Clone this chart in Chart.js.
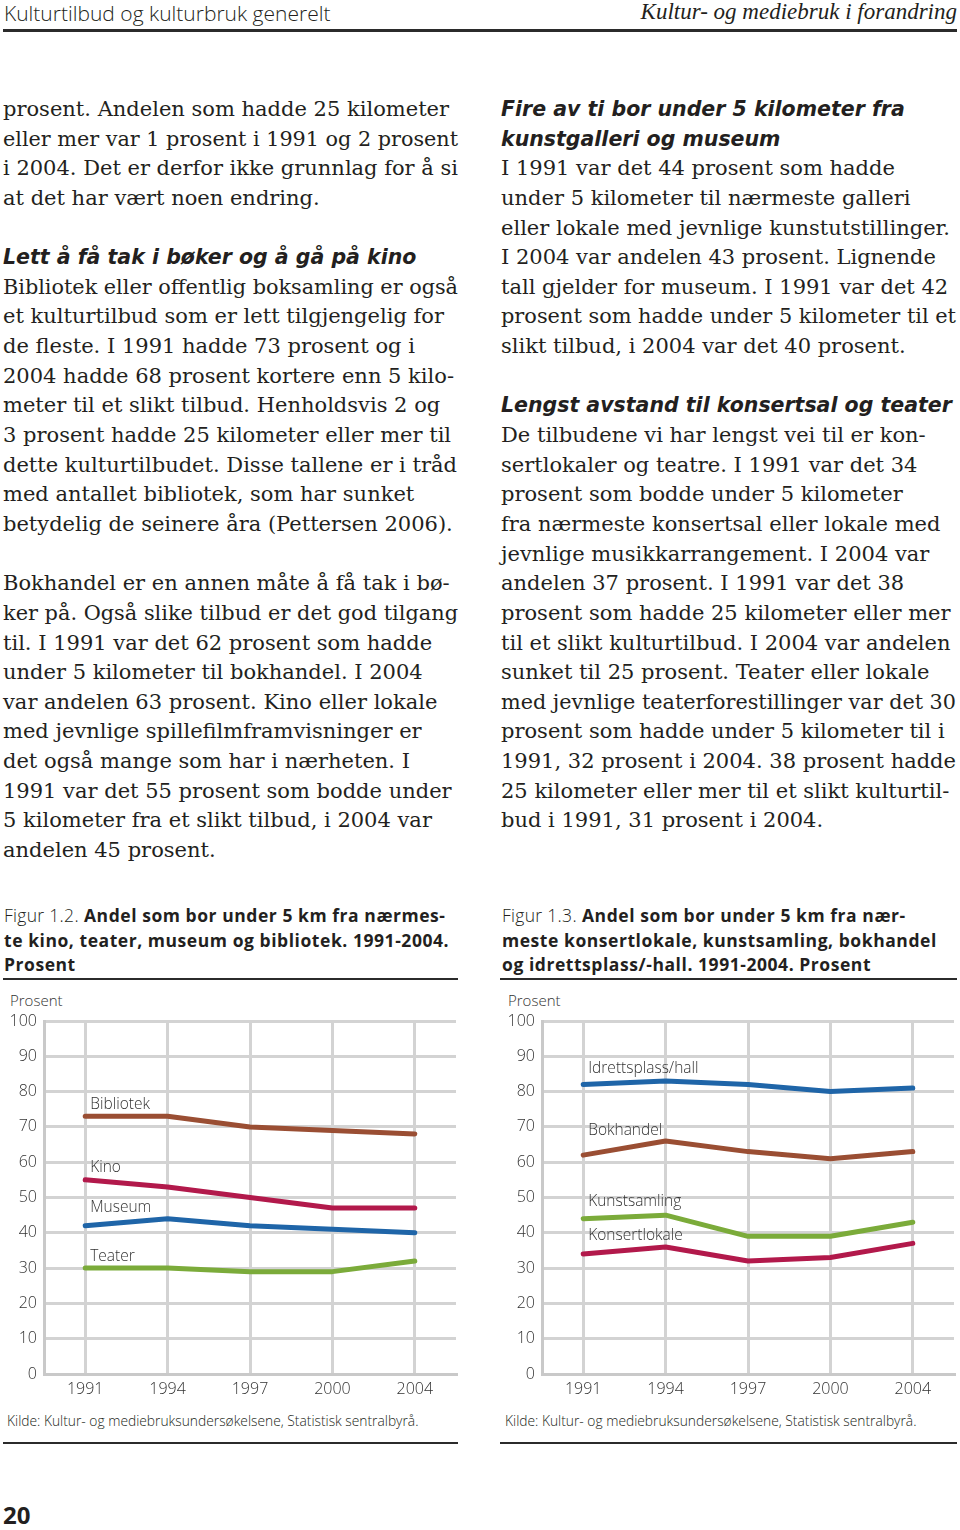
<!DOCTYPE html>
<html>
<head>
<meta charset="utf-8">
<script src="https://cdn.jsdelivr.net/npm/chart.js@4.4.1/dist/chart.umd.min.js"></script>
<style>
  html, body { margin: 0; padding: 0; background: #fff; }
  body { width: 960px; height: 1530px; position: relative; overflow: hidden; color: #231f20; }
  .abs { position: absolute; }
  .rule { position: absolute; background: #2b2b2b; }
  .col { position: absolute; top: 95px; width: 460px; font-family: "DejaVu Serif", serif; font-size: 21px; line-height: 29.65px; }
  .col div { white-space: nowrap; height: 29.65px; transform-origin: left center; }
  .col .h { font-family: "DejaVu Sans", sans-serif; font-weight: 700; font-style: italic; font-size: 20.5px; }
  .cap { position: absolute; top: 903px; font-family: "Open Sans", sans-serif; font-size: 17.5px; line-height: 24.6px; font-weight: 700; letter-spacing: 0.55px; }
  .cap .fig { font-weight: 300; letter-spacing: 0.3px; }
  .cap div { white-space: nowrap; transform-origin: left center; }
  .src { position: absolute; top: 1411px; font-family: "Open Sans", sans-serif; font-size: 13.8px; font-weight: 300; white-space: nowrap; }
  .unit { position: absolute; top: 990px; font-family: "Open Sans", sans-serif; font-size: 15px; font-weight: 300; color: #333; }
  canvas { position: absolute; }
</style>
</head>
<body>

<div class="abs" style="left:4px; top:-1px; font-family:'Open Sans',sans-serif; font-weight:300; font-size:21px;">Kulturtilbud og kulturbruk generelt</div>
<div class="abs" style="right:3px; top:-1px; font-family:'Liberation Serif',serif; font-style:italic; font-size:23px;">Kultur- og mediebruk i forandring</div>
<div class="rule" style="left:3px; top:29px; width:954px; height:3px;"></div>

<div class="col" id="leftCol" style="left:3px;"></div>
<div class="col" id="rightCol" style="left:501px;"></div>

<div class="cap" style="left:4px;">
  <div><span class="fig">Figur 1.2.</span> Andel som bor under 5 km fra nærmes-</div>
  <div>te kino, teater, museum og bibliotek. 1991-2004.</div>
  <div>Prosent</div>
</div>
<div class="cap" style="left:502px;">
  <div><span class="fig">Figur 1.3.</span> Andel som bor under 5 km fra nær-</div>
  <div>meste konsertlokale, kunstsamling, bokhandel</div>
  <div>og idrettsplass/-hall. 1991-2004. Prosent</div>
</div>
<div class="rule" style="left:3px; top:978px; width:455px; height:2px;"></div>
<div class="rule" style="left:500px; top:978px; width:457px; height:2px;"></div>

<div class="unit" style="left:10px;">Prosent</div>
<div class="unit" style="left:508px;">Prosent</div>
<canvas id="chartLeft" width="460" height="405" style="left:0px; top:995px;"></canvas>
<canvas id="chartRight" width="460" height="405" style="left:498px; top:995px;"></canvas>

<div class="src" style="left:7px;">Kilde: Kultur- og mediebruksundersøkelsene, Statistisk sentralbyrå.</div>
<div class="src" style="left:505px;">Kilde: Kultur- og mediebruksundersøkelsene, Statistisk sentralbyrå.</div>
<div class="rule" style="left:3px; top:1442px; width:455px; height:2px;"></div>
<div class="rule" style="left:500px; top:1442px; width:457px; height:2px;"></div>

<div class="abs" style="left:3px; top:1498px; font-family:'Open Sans',sans-serif; font-weight:700; font-size:24px;">20</div>

<script>
// Chart data
const years = ['1991', '1994', '1997', '2000', '2004'];
const yTicks = [0, 10, 20, 30, 40, 50, 60, 70, 80, 90, 100];

// Figur 1.2
const bibliotek = [73, 73, 70, 69, 68];
const kino = [55, 53, 50, 47, 47];
const museum = [42, 44, 42, 41, 40];
const teater = [30, 30, 29, 29, 32];

// Figur 1.3
const idrettsplass = [82, 83, 82, 80, 81];
const bokhandel = [62, 66, 63, 61, 63];
const kunstsamling = [44, 45, 39, 39, 43];
const konsertlokale = [34, 36, 32, 33, 37];

const BROWN = '#9a4e33';
const RED = '#b2194b';
const BLUE = '#1f65a8';
const GREEN = '#7bab3a';

// body text, one entry per printed line ('' = empty line, '#' prefix = heading)
const leftLines = [
    'prosent. Andelen som hadde 25 kilometer',
    'eller mer var 1 prosent i 1991 og 2 prosent',
    'i 2004. Det er derfor ikke grunnlag for å si',
    'at det har vært noen endring.',
    '',
    '#Lett å få tak i bøker og å gå på kino',
    'Bibliotek eller offentlig boksamling er også',
    'et kulturtilbud som er lett tilgjengelig for',
    'de fleste. I 1991 hadde 73 prosent og i',
    '2004 hadde 68 prosent kortere enn 5 kilo-',
    'meter til et slikt tilbud. Henholdsvis 2 og',
    '3 prosent hadde 25 kilometer eller mer til',
    'dette kulturtilbudet. Disse tallene er i tråd',
    'med antallet bibliotek, som har sunket',
    'betydelig de seinere åra (Pettersen 2006).',
    '',
    'Bokhandel er en annen måte å få tak i bø-',
    'ker på. Også slike tilbud er det god tilgang',
    'til. I 1991 var det 62 prosent som hadde',
    'under 5 kilometer til bokhandel. I 2004',
    'var andelen 63 prosent. Kino eller lokale',
    'med jevnlige spillefilmframvisninger er',
    'det også mange som har i nærheten. I',
    '1991 var det 55 prosent som bodde under',
    '5 kilometer fra et slikt tilbud, i 2004 var',
    'andelen 45 prosent.'
];
const rightLines = [
    '#Fire av ti bor under 5 kilometer fra',
    '#kunstgalleri og museum',
    'I 1991 var det 44 prosent som hadde',
    'under 5 kilometer til nærmeste galleri',
    'eller lokale med jevnlige kunstutstillinger.',
    'I 2004 var andelen 43 prosent. Lignende',
    'tall gjelder for museum. I 1991 var det 42',
    'prosent som hadde under 5 kilometer til et',
    'slikt tilbud, i 2004 var det 40 prosent.',
    '',
    '#Lengst avstand til konsertsal og teater',
    'De tilbudene vi har lengst vei til er kon-',
    'sertlokaler og teatre. I 1991 var det 34',
    'prosent som bodde under 5 kilometer',
    'fra nærmeste konsertsal eller lokale med',
    'jevnlige musikkarrangement. I 2004 var',
    'andelen 37 prosent. I 1991 var det 38',
    'prosent som hadde 25 kilometer eller mer',
    'til et slikt kulturtilbud. I 2004 var andelen',
    'sunket til 25 prosent. Teater eller lokale',
    'med jevnlige teaterforestillinger var det 30',
    'prosent som hadde under 5 kilometer til i',
    '1991, 32 prosent i 2004. 38 prosent hadde',
    '25 kilometer eller mer til et slikt kulturtil-',
    'bud i 1991, 31 prosent i 2004.'
];

// squeeze a nowrap line if it runs past maxW
function fitLine(div, maxW) {
    const span = document.createElement('span');
    while (div.firstChild) span.appendChild(div.firstChild);
    div.appendChild(span);
    const w = span.getBoundingClientRect().width;
    if (w > maxW) {
        div.style.transform = 'scaleX(' + (maxW / w) + ')';
    }
}

function fillColumn(id, lines) {
    const col = document.getElementById(id);
    lines.forEach(line => {
        const div = document.createElement('div');
        if (line.startsWith('#')) {
            div.className = 'h';
            div.textContent = line.slice(1);
        } else {
            div.textContent = line;
        }
        col.appendChild(div);
        fitLine(div, 455);
    });
}

fillColumn('leftCol', leftLines);
fillColumn('rightCol', rightLines);
document.querySelectorAll('.cap div').forEach(d => fitLine(d, 452));

// draws the series name just above the first point of each line
const lineLabels = {
    id: 'lineLabels',
    afterDatasetsDraw(chart) {
        const ctx = chart.ctx;
        const xs = chart.scales.x;
        const ys = chart.scales.y;
        ctx.save();
        ctx.font = '300 15.5px "Open Sans", sans-serif';
        ctx.fillStyle = '#333';
        ctx.textAlign = 'left';
        ctx.textBaseline = 'middle';
        chart.data.datasets.forEach(ds => {
            const px = xs.getPixelForValue(0) + 5;
            const py = ys.getPixelForValue(ds.data[0]) - ds.labelLift;
            ctx.fillText(ds.label, px, py);
        });
        ctx.restore();
    }
};

function makeDataset(label, data, color, lift) {
    return {
        label: label,
        data: data,
        borderColor: color,
        borderWidth: 5,
        borderCapStyle: 'round',
        borderJoinStyle: 'round',
        pointRadius: 0,
        tension: 0,
        fill: false,
        labelLift: lift
    };
}

function renderChart(canvasId, datasets) {
    const ctx = document.getElementById(canvasId).getContext('2d');
    new Chart(ctx, {
        type: 'line',
        data: {
            labels: years,
            datasets: datasets
        },
        options: {
            responsive: false,
            animation: false,
            layout: {
                padding: { top: 26, right: 4, left: 0, bottom: 0 }
            },
            scales: {
                x: {
                    offset: true,
                    grid: {
                        offset: false,
                        color: '#d3d3d3',
                        lineWidth: 3,
                        drawTicks: false
                    },
                    border: { color: '#c9c9c9', width: 3 },
                    ticks: {
                        padding: 6,
                        color: '#333',
                        font: { family: 'Open Sans', size: 16, weight: 300 }
                    },
                    afterFit: scale => { scale.height = 26; }
                },
                y: {
                    min: 0,
                    max: 100,
                    afterBuildTicks: scale => {
                        scale.ticks = yTicks.map(v => ({ value: v }));
                    },
                    grid: {
                        color: '#d3d3d3',
                        lineWidth: 3,
                        drawTicks: false
                    },
                    border: { color: '#c9c9c9', width: 3 },
                    ticks: {
                        padding: 7,
                        color: '#333',
                        font: { family: 'Open Sans', size: 16, weight: 300 }
                    },
                    afterFit: scale => { scale.width = 44; }
                }
            },
            plugins: {
                legend: { display: false },
                tooltip: { enabled: false }
            }
        },
        plugins: [lineLabels]
    });
}

renderChart('chartLeft', [
    makeDataset('Bibliotek', bibliotek, BROWN, 12),
    makeDataset('Kino', kino, RED, 12),
    makeDataset('Museum', museum, BLUE, 18),
    makeDataset('Teater', teater, GREEN, 12)
]);

renderChart('chartRight', [
    makeDataset('Idrettsplass/hall', idrettsplass, BLUE, 16),
    makeDataset('Bokhandel', bokhandel, BROWN, 25),
    makeDataset('Kunstsamling', kunstsamling, GREEN, 17),
    makeDataset('Konsertlokale', konsertlokale, RED, 18)
]);
</script>
</body>
</html>
